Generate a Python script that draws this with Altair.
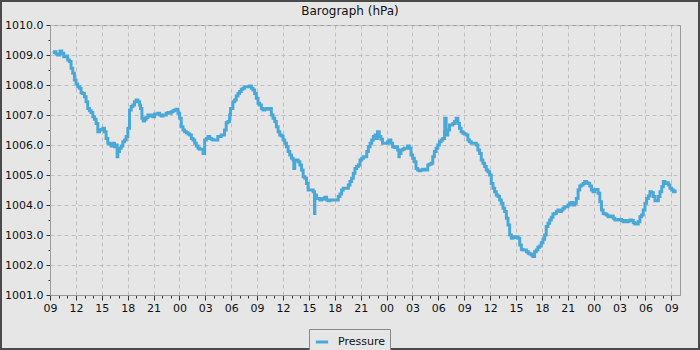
import json
import altair as alt
import pandas as pd

# hours since 09:00 on day 1
hours = [
    0.31, 0.50, 0.70, 0.89, 1.16, 1.36, 1.59, 1.86, 2.05, 2.25, 2.44, 2.63, 2.83, 3.02, 3.21, 3.41,
    3.60, 3.79, 3.99, 4.18, 4.37, 4.57, 4.76, 4.96, 5.15, 5.34, 5.54, 5.73, 5.92, 6.12, 6.31, 6.50,
    6.70, 6.89, 7.08, 7.28, 7.47, 7.67, 7.78, 7.86, 8.05, 8.25, 8.44, 8.63, 8.83, 9.02, 9.21, 9.41,
    9.60, 9.79, 9.99, 10.18, 10.38, 10.49, 10.65, 10.80, 10.96, 11.15, 11.34, 11.54, 11.73, 11.92,
    12.12, 12.50, 12.70, 12.89, 13.09, 13.28, 13.47, 13.67, 13.86, 14.05, 14.25, 14.44, 14.63, 14.83,
    15.02, 15.21, 15.41, 15.60, 15.80, 15.99, 16.18, 16.38, 16.57, 16.76, 16.96, 17.15, 17.34, 17.54,
    17.73, 17.92, 18.12, 18.31, 18.51, 18.70, 18.89,
    19.06, 19.45, 19.84, 20.03, 20.22, 20.42, 20.61, 20.81, 20.92, 21.19, 21.39, 21.58, 21.78, 21.97,
    22.16, 22.36, 22.55, 22.94, 23.13, 23.33, 23.52, 23.71, 23.91, 24.10, 24.29, 24.49, 24.68, 24.88,
    25.07, 25.26, 25.46, 25.65, 25.84, 26.04, 26.23, 26.43, 26.62, 26.81, 27.01, 27.20, 27.40, 27.59,
    27.78, 27.98, 28.17, 28.25, 28.36, 28.56, 28.75, 28.95, 29.14, 29.33, 29.53, 29.72, 29.91, 30.11,
    30.30, 30.50, 30.65, 30.69, 30.88, 31.08, 31.27, 31.47, 31.66, 31.85, 32.05, 32.24, 32.43, 32.63,
    32.82, 33.02, 33.21, 33.40, 33.60, 33.79, 33.98, 34.18, 34.37, 34.57, 34.76, 34.95, 35.15, 35.34,
    35.53, 35.73, 35.92, 36.12, 36.31, 36.50, 36.70, 36.89, 37.09, 37.28, 37.47, 37.67,
    37.76, 37.95, 38.15, 38.34, 38.53, 38.73, 38.92, 39.12, 39.31, 39.50, 39.70, 39.89, 40.09, 40.28,
    40.43, 40.47, 40.67, 40.86, 41.05, 41.25, 41.44, 41.64, 41.83, 42.02, 42.22, 42.41, 42.60, 42.80,
    42.99, 43.19, 43.38, 43.57, 43.77, 43.96, 44.16, 44.35, 44.54, 44.74, 44.93, 45.12, 45.32, 45.51,
    45.71, 45.74, 45.90, 46.09, 46.29, 46.48, 46.67, 46.87, 47.06, 47.26, 47.45, 47.64, 47.84, 48.03,
    48.22, 48.42, 48.61, 48.81, 49.00, 49.19, 49.39, 49.58, 49.78, 49.97, 50.16, 50.36, 50.55, 50.74,
    50.94, 51.13, 51.33, 51.52, 51.71, 51.91, 52.10, 52.29, 52.49, 52.68, 52.88, 53.07, 53.26, 53.46,
    53.65, 53.84, 54.04, 54.23, 54.43, 54.62, 54.81, 55.01, 55.20, 55.40, 55.59, 55.78,
    55.95, 56.15, 56.34, 56.53, 56.73, 56.92, 57.12, 57.31, 57.50, 57.70, 57.89, 58.09, 58.28, 58.47,
    58.67, 58.86, 59.05, 59.25, 59.44, 59.64, 59.83, 60.02, 60.22, 60.41, 60.60, 60.80, 60.99, 61.19,
    61.38, 61.57, 61.77, 61.96, 62.16, 62.35, 62.54, 62.74, 62.93, 63.12, 63.32, 63.51, 63.71, 63.90,
    64.09, 64.29, 64.48, 64.67, 64.87, 65.06, 65.26, 65.45, 65.64, 65.84, 66.03, 66.22, 66.42, 66.61,
    66.81, 67.00, 67.19, 67.39, 67.58, 67.78, 67.97, 68.16, 68.36, 68.55, 68.74, 68.94, 69.13, 69.33,
    69.52, 69.71, 69.91, 70.10, 70.29, 70.49, 70.68, 70.88, 71.07, 71.26, 71.46, 71.65, 71.84, 72.04,
    72.23, 72.43,
]

pressure = [
    1009.08, 1009.11, 1009.03, 1009.00, 1009.13, 1009.06, 1008.94, 1008.97, 1008.83, 1008.78, 1008.56,
    1008.39, 1008.17, 1008.03, 1007.94, 1007.89, 1007.74, 1007.72, 1007.61, 1007.44, 1007.22, 1007.14,
    1007.08, 1006.94, 1006.86, 1006.72, 1006.44, 1006.50, 1006.52, 1006.56, 1006.44, 1006.22, 1006.06,
    1006.03, 1005.97, 1006.06, 1005.94, 1006.00, 1005.61, 1005.78, 1005.89, 1005.97, 1006.11, 1006.17,
    1006.28, 1006.56, 1007.17, 1007.28, 1007.33, 1007.44, 1007.50, 1007.44, 1007.33, 1007.22, 1006.89,
    1006.80, 1006.86, 1006.92, 1007.00, 1006.97, 1007.00, 1006.94, 1007.03, 1007.06, 1007.00, 1006.97,
    1007.00, 1007.00, 1007.06, 1007.08, 1007.06, 1007.11, 1007.14, 1007.17, 1007.19, 1007.06, 1006.89,
    1006.61, 1006.50, 1006.44, 1006.41, 1006.37, 1006.33, 1006.22, 1006.17, 1006.06, 1005.97, 1005.89,
    1005.86, 1005.86, 1005.72, 1006.17, 1006.22, 1006.28, 1006.22, 1006.19, 1006.17,
    1006.17, 1006.28, 1006.33, 1006.33, 1006.50, 1006.74, 1006.78, 1007.00, 1007.22, 1007.44, 1007.50,
    1007.63, 1007.72, 1007.78, 1007.86, 1007.89, 1007.94, 1007.94, 1007.97, 1007.89, 1007.83, 1007.72,
    1007.56, 1007.39, 1007.33, 1007.22, 1007.17, 1007.19, 1007.22, 1007.19, 1007.22, 1007.00, 1006.89,
    1006.78, 1006.61, 1006.44, 1006.33, 1006.30, 1006.17, 1006.06, 1005.94, 1005.78, 1005.67, 1005.56,
    1005.50, 1005.22, 1005.50, 1005.50, 1005.44, 1005.33, 1005.17, 1004.94, 1004.89, 1004.72, 1004.50,
    1004.50, 1004.50, 1004.44, 1003.72, 1004.33, 1004.22, 1004.22, 1004.17, 1004.19, 1004.22, 1004.26,
    1004.17, 1004.14, 1004.17, 1004.17, 1004.17, 1004.17, 1004.17, 1004.28, 1004.37, 1004.50, 1004.56,
    1004.56, 1004.56, 1004.67, 1004.78, 1004.89, 1005.06, 1005.22, 1005.28, 1005.33, 1005.50, 1005.56,
    1005.61, 1005.61, 1005.78, 1005.94, 1006.06, 1006.17, 1006.28, 1006.33,
    1006.22, 1006.44, 1006.28, 1006.19, 1006.06, 1006.06, 1006.06, 1006.11, 1006.17, 1006.06, 1005.94,
    1005.92, 1005.94, 1005.83, 1005.61, 1005.72, 1005.83, 1005.86, 1005.89, 1005.89, 1005.97, 1005.89,
    1005.67, 1005.56, 1005.44, 1005.22, 1005.17, 1005.14, 1005.17, 1005.19, 1005.17, 1005.17, 1005.33,
    1005.36, 1005.39, 1005.61, 1005.78, 1005.89, 1006.00, 1006.11, 1006.17, 1006.22, 1006.44, 1006.89,
    1006.33, 1006.50, 1006.67, 1006.67, 1006.72, 1006.78, 1006.89, 1006.72, 1006.56, 1006.44, 1006.39,
    1006.37, 1006.33, 1006.17, 1006.11, 1006.06, 1006.06, 1006.06, 1006.00, 1005.83, 1005.72, 1005.50,
    1005.39, 1005.28, 1005.17, 1005.11, 1005.00, 1004.72, 1004.56, 1004.44, 1004.33, 1004.28, 1004.17,
    1004.06, 1003.89, 1003.78, 1003.56, 1003.33, 1003.00, 1002.89, 1002.94, 1002.92, 1002.94, 1002.89,
    1002.67, 1002.52, 1002.50, 1002.50, 1002.44, 1002.39, 1002.37, 1002.33,
    1002.28, 1002.44, 1002.50, 1002.59, 1002.63, 1002.74, 1002.86, 1003.00, 1003.28, 1003.39, 1003.50,
    1003.59, 1003.70, 1003.72, 1003.78, 1003.83, 1003.78, 1003.83, 1003.89, 1003.94, 1003.94, 1004.00,
    1004.06, 1004.08, 1004.00, 1004.06, 1004.22, 1004.50, 1004.63, 1004.67, 1004.72, 1004.78, 1004.74,
    1004.72, 1004.63, 1004.50, 1004.44, 1004.52, 1004.52, 1004.39, 1004.11, 1003.83, 1003.72, 1003.70,
    1003.67, 1003.61, 1003.61, 1003.63, 1003.56, 1003.50, 1003.50, 1003.52, 1003.52, 1003.48, 1003.44,
    1003.48, 1003.44, 1003.47, 1003.50, 1003.48, 1003.41, 1003.37, 1003.37, 1003.44, 1003.61, 1003.67,
    1003.83, 1004.06, 1004.22, 1004.30, 1004.44, 1004.41, 1004.28, 1004.14, 1004.14, 1004.28, 1004.44,
    1004.61, 1004.78, 1004.72, 1004.74, 1004.67, 1004.56, 1004.50, 1004.44, 1004.52,
]

hour_labels = ["09", "12", "15", "18", "21", "00", "03", "06", "09", "12", "15", "18", "21",
               "00", "03", "06", "09", "12", "15", "18", "21", "00", "03", "06", "09"]
x_tick_values = list(range(0, 73))
y_tick_values = [1001.0, 1001.5, 1002.0, 1002.5, 1003.0, 1003.5, 1004.0, 1004.5, 1005.0, 1005.5,
                 1006.0, 1006.5, 1007.0, 1007.5, 1008.0, 1008.5, 1009.0, 1009.5, 1010.0]
chart_title = "Barograph (hPa)"

df = pd.DataFrame({"hour": hours, "pressure": pressure, "series": "Pressure"})

BG = "#e6e6e6"
LINE = "#4aa8d8"
FONT = "DejaVu Sans"

x_label_expr = "datum.value % 3 === 0 ? " + json.dumps(hour_labels) + "[datum.value / 3] : ''"

line = alt.Chart(df).mark_line(strokeWidth=3, interpolate="step-after").encode(
    x=alt.X("hour:Q",
            scale=alt.Scale(domain=[0, 73], nice=False, zero=False),
            axis=alt.Axis(values=x_tick_values, labelExpr=x_label_expr, title=None,
                          tickSize={"condition": {"test": "datum.value % 3 === 0", "value": 5}, "value": 3},
                          gridOpacity={"condition": {"test": "datum.value % 3 === 0", "value": 1}, "value": 0},
                          labelOverlap=False, labelFlush=False, labelPadding=2)),
    y=alt.Y("pressure:Q",
            scale=alt.Scale(domain=[1001, 1010], nice=False, zero=False),
            axis=alt.Axis(values=y_tick_values, title=None,
                          labelExpr="datum.value % 1 === 0 ? format(datum.value, '.1f') : ''",
                          tickSize={"condition": {"test": "datum.value % 1 === 0", "value": 4}, "value": 2},
                          gridOpacity={"condition": {"test": "datum.value % 1 === 0", "value": 1}, "value": 0},
                          labelOverlap=False, labelFlush=False, labelPadding=3)),
    color=alt.Color("series:N", scale=alt.Scale(range=[LINE]),
                    legend=alt.Legend(title=None, orient="none", legendX=259, legendY=304,
                                      symbolType="stroke", symbolStrokeWidth=3, symbolSize=150,
                                      labelFontSize=11, labelFont=FONT, labelColor="#111",
                                      strokeColor="#888888", fillColor=BG, padding=5,
                                      labelOffset=8)),
)

# chart title, drawn as text just above the plot area
title = alt.Chart(alt.Data(values=[{"t": chart_title}])).mark_text(
    font=FONT, fontSize=12, color="#111", align="center", baseline="alphabetic"
).encode(x=alt.value(300), y=alt.value(-10), text="t:N")

# dark outer frame of the picture
frame = alt.Chart(alt.Data(values=[{"a": 1}])).mark_rect(
    fill=None, stroke="#4a4a4a", strokeWidth=4
).encode(x=alt.value(-50), x2=alt.value(650), y=alt.value(-25), y2=alt.value(325))

chart = alt.layer(line, title, frame).properties(
    width=630, height=270,
    autosize=alt.AutoSizeParams(type="none"),
    padding={"left": 50, "top": 25, "right": 20, "bottom": 55},
    background=BG,
).configure_view(
    stroke="#999999", strokeWidth=1, fill=BG
).configure_axis(
    labelFont=FONT, labelFontSize=11, labelColor="#111",
    domainColor="#999999", tickColor="#333333",
    gridColor="#c0c0c0", gridDash=[4, 3], gridWidth=1,
)

chart.save("out.html", embed_options={"renderer": "svg", "actions": False})
